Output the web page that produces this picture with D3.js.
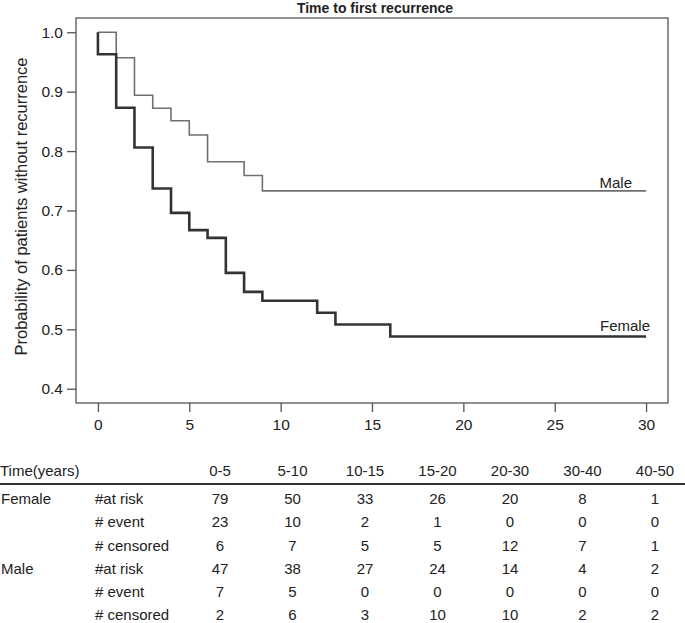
<!DOCTYPE html>
<html>
<head>
<meta charset="utf-8">
<script src="https://cdn.jsdelivr.net/npm/d3@7"></script>
<style>
  html, body { margin: 0; padding: 0; background: #fff; }
  svg { display: block; font-family: "Liberation Sans", Arial, Helvetica, sans-serif; }
</style>
</head>
<body>
<svg id="chart" width="685" height="623"></svg>
<script>
// ---- Data ----
const title = "Time to first recurrence";
const yLabel = "Probability of patients without recurrence";
const xTicks = [0, 5, 10, 15, 20, 25, 30];
const yTicks = [0.4, 0.5, 0.6, 0.7, 0.8, 0.9, 1.0];

const femaleTimes = [0, 0, 1, 2, 3, 4, 5, 6, 7, 8, 9, 12, 13, 16, 30];
const femaleSurv  = [1.0, 0.963, 0.873, 0.806, 0.737, 0.696, 0.667, 0.654, 0.595, 0.563, 0.548, 0.528, 0.508, 0.488, 0.488];
const maleTimes = [0, 1, 2, 3, 4, 5, 6, 8, 9, 30];
const maleSurv  = [1.0, 0.957, 0.894, 0.872, 0.851, 0.827, 0.782, 0.759, 0.733, 0.733];

const intervals = ["0-5", "5-10", "10-15", "15-20", "20-30", "30-40", "40-50"];
const femaleAtRisk   = [79, 50, 33, 26, 20, 8, 1];
const femaleEvent    = [23, 10, 2, 1, 0, 0, 0];
const femaleCensored = [6, 7, 5, 5, 12, 7, 1];
const maleAtRisk     = [47, 38, 27, 24, 14, 4, 2];
const maleEvent      = [7, 5, 0, 0, 0, 0, 0];
const maleCensored   = [2, 6, 3, 10, 10, 2, 2];

// ---- Layout ----
const svg = d3.select("#chart");
const box = {left: 76, right: 668, top: 18, bottom: 403};
const x = d3.scaleLinear().domain([-1.2, 31.2]).range([box.left, box.right]);
const y = d3.scaleLinear().domain([0.376, 1.024]).range([box.bottom, box.top]);
const axisColor = "#555";
const textColor = "#222";
const fontFam = "Liberation Sans, Arial, sans-serif";

// Title
svg.append("text").attr("x", 375).attr("y", 8)
  .attr("text-anchor", "middle").attr("dominant-baseline", "central")
  .attr("font-size", 14).attr("font-weight", "bold").attr("fill", textColor)
  .text(title);

// Box
svg.append("rect").attr("x", box.left).attr("y", box.top)
  .attr("width", box.right - box.left).attr("height", box.bottom - box.top)
  .attr("fill", "none").attr("stroke", axisColor).attr("stroke-width", 1.3);

// Y axis
const yAxis = d3.axisLeft(y).tickValues(yTicks).tickFormat(d3.format(".1f"))
  .tickSize(9).tickPadding(4);
const gy = svg.append("g").attr("transform", `translate(${box.left},0)`).call(yAxis);
gy.select(".domain").remove();
gy.selectAll(".tick line").attr("stroke", axisColor).attr("stroke-width", 1.3);
gy.selectAll(".tick text").attr("font-size", 15.5).attr("fill", textColor)
  .attr("font-family", fontFam);

// X axis
const xAxis = d3.axisBottom(x).tickValues(xTicks).tickSize(9).tickPadding(7);
const gx = svg.append("g").attr("transform", `translate(0,${box.bottom})`).call(xAxis);
gx.select(".domain").remove();
gx.selectAll(".tick line").attr("stroke", axisColor).attr("stroke-width", 1.3);
gx.selectAll(".tick text").attr("font-size", 15.5).attr("fill", textColor)
  .attr("font-family", fontFam);

// Y label
svg.append("text")
  .attr("transform", `translate(21,${(box.top + box.bottom) / 2 - 4}) rotate(-90)`)
  .attr("text-anchor", "middle").attr("dominant-baseline", "central")
  .attr("font-size", 16.5).attr("fill", textColor).text(yLabel);

// Curves
const line = d3.line().x(d => x(d[0])).y(d => y(d[1])).curve(d3.curveStepAfter);
const maleData = maleTimes.map((t, i) => [t, maleSurv[i]]);
const femaleData = femaleTimes.map((t, i) => [t, femaleSurv[i]]);

svg.append("path").datum(maleData).attr("d", line)
  .attr("fill", "none").attr("stroke", "#707070").attr("stroke-width", 1.6);
svg.append("path").datum(femaleData).attr("d", line)
  .attr("fill", "none").attr("stroke", "#333").attr("stroke-width", 2.6);

// Curve labels
svg.append("text").attr("x", 632).attr("y", y(maleSurv[maleSurv.length - 1]) - 3)
  .attr("text-anchor", "end").attr("font-size", 15).attr("fill", textColor).text("Male");
svg.append("text").attr("x", 650).attr("y", y(femaleSurv[femaleSurv.length - 1]) - 5.5)
  .attr("text-anchor", "end").attr("font-size", 15).attr("fill", textColor).text("Female");

// ---- Table ----
const colX = d3.scalePoint().domain(intervals).range([220, 655]);
const tableFont = 15;
const rowY = [498, 521, 545, 568, 591, 614];

svg.append("text").attr("x", 0).attr("y", 470).attr("dominant-baseline", "central")
  .attr("font-size", tableFont).attr("fill", textColor).text("Time(years)");
svg.selectAll("text.hdr").data(intervals).enter().append("text")
  .attr("class", "hdr").attr("x", d => colX(d)).attr("y", 470)
  .attr("text-anchor", "middle").attr("dominant-baseline", "central")
  .attr("font-size", tableFont).attr("fill", textColor).text(d => d);

svg.append("line").attr("x1", 0).attr("x2", 685).attr("y1", 484).attr("y2", 484)
  .attr("stroke", "#333").attr("stroke-width", 2.2);

const rows = [
  {group: "Female", label: "#at risk", vals: femaleAtRisk},
  {group: "", label: "# event", vals: femaleEvent},
  {group: "", label: "# censored", vals: femaleCensored},
  {group: "Male", label: "#at risk", vals: maleAtRisk},
  {group: "", label: "# event", vals: maleEvent},
  {group: "", label: "# censored", vals: maleCensored}
];

rows.forEach((r, i) => {
  const ry = rowY[i];
  if (r.group) {
    svg.append("text").attr("x", 1).attr("y", ry).attr("dominant-baseline", "central")
      .attr("font-size", tableFont).attr("fill", textColor).text(r.group);
  }
  svg.append("text").attr("x", 95).attr("y", ry).attr("dominant-baseline", "central")
    .attr("font-size", tableFont).attr("fill", textColor).text(r.label);
  r.vals.forEach((v, j) => {
    svg.append("text").attr("x", colX(intervals[j])).attr("y", ry)
      .attr("text-anchor", "middle").attr("dominant-baseline", "central")
      .attr("font-size", tableFont).attr("fill", textColor).text(v);
  });
});
</script>
</body>
</html>
